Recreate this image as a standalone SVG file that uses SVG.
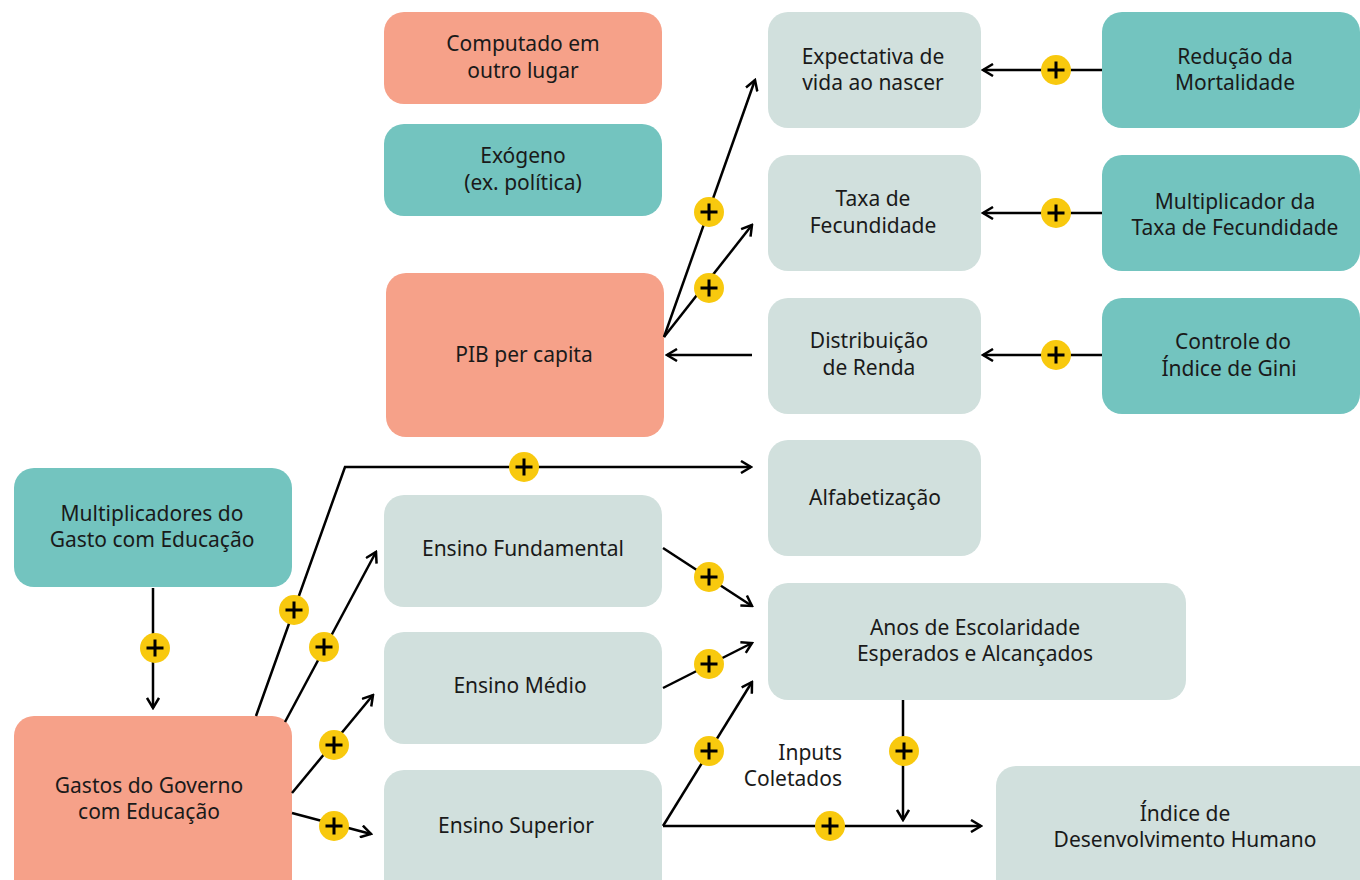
<svg xmlns="http://www.w3.org/2000/svg" width="1360" height="880" viewBox="0 0 1360 880">
<defs>
<style>
.salmon{fill:#F6A189}
.teal{fill:#73C4BF}
.gray{fill:#D1E0DD}
text{font-family:"Noto Sans","Open Sans",sans-serif;font-size:21px;fill:#1a1a1a;text-anchor:middle}
.c{fill:none;stroke:#000;stroke-width:2.5}
</style>
<marker id="ar" viewBox="0 0 14 14" refX="12" refY="7" markerWidth="14" markerHeight="14" markerUnits="userSpaceOnUse" orient="auto">
<path d="M2,1 L12,7 L2,13" fill="none" stroke="#000" stroke-width="2.5"/>
</marker>
<g id="plus"><circle r="15" fill="#F8C90E"/><path d="M-8.5,0 H8.5 M0,-8.5 V8.5" stroke="#000" stroke-width="3" fill="none"/></g>
</defs>
<rect width="1360" height="880" fill="#fff"/>

<g id="n-computado"><rect class="salmon" x="384" y="12" width="278" height="92" rx="20"/><text x="523" y="51">Computado em</text><text x="523" y="78">outro lugar</text></g>
<g id="n-exogeno"><rect class="teal" x="384" y="124" width="278" height="92" rx="20"/><text x="523" y="163">Exógeno</text><text x="523" y="190">(ex. política)</text></g>
<g id="n-pib"><rect class="salmon" x="386" y="273" width="278" height="164" rx="20"/><text x="524" y="362">PIB  per capita</text></g>
<g id="n-expectativa"><rect class="gray" x="768" y="12" width="213" height="116" rx="20"/><text x="873" y="64">Expectativa de</text><text x="873" y="90">vida ao nascer</text></g>
<g id="n-taxa"><rect class="gray" x="768" y="155" width="213" height="116" rx="20"/><text x="873" y="206">Taxa de</text><text x="873" y="233">Fecundidade</text></g>
<g id="n-distribuicao"><rect class="gray" x="768" y="298" width="213" height="116" rx="20"/><text x="869" y="348">Distribuição</text><text x="869" y="375">de Renda</text></g>
<g id="n-reducao"><rect class="teal" x="1102" y="12" width="258" height="116" rx="20"/><text x="1235" y="64">Redução da</text><text x="1235" y="90">Mortalidade</text></g>
<g id="n-multfec"><rect class="teal" x="1102" y="155" width="258" height="116" rx="20"/><text x="1235" y="209">Multiplicador da</text><text x="1235" y="235">Taxa de Fecundidade</text></g>
<g id="n-gini"><rect class="teal" x="1102" y="298" width="258" height="116" rx="20"/><text x="1233" y="349">Controle do</text><text x="1229" y="376">Índice de Gini</text></g>
<g id="n-alfabetizacao"><rect class="gray" x="768" y="440" width="213" height="116" rx="20"/><text x="875" y="505">Alfabetização</text></g>
<g id="n-multgasto"><rect class="teal" x="14" y="468" width="278" height="119" rx="20"/><text x="152" y="521">Multiplicadores do</text><text x="152" y="547">Gasto com Educação</text></g>
<g id="n-fundamental"><rect class="gray" x="384" y="495" width="278" height="112" rx="20"/><text x="523" y="556">Ensino Fundamental</text></g>
<g id="n-medio"><rect class="gray" x="384" y="632" width="278" height="112" rx="20"/><text x="520" y="693">Ensino Médio</text></g>
<g id="n-superior"><rect class="gray" x="384" y="770" width="278" height="130" rx="20"/><text x="516" y="833">Ensino Superior</text></g>
<g id="n-anos"><rect class="gray" x="768" y="583" width="418" height="117" rx="20"/><text x="975" y="635">Anos de Escolaridade</text><text x="975" y="661">Esperados e Alcançados</text></g>
<g id="n-gastos"><rect class="salmon" x="14" y="716" width="278" height="184" rx="20"/><text x="149" y="793">Gastos do Governo</text><text x="149" y="819">com Educação</text></g>
<g id="n-idh"><rect class="gray" x="996" y="766" width="384" height="134" rx="20"/><text x="1185" y="821">Índice de</text><text x="1185" y="847">Desenvolvimento Humano</text></g>
<g id="l-inputs"><text x="842" y="760" style="text-anchor:end">Inputs</text><text x="842" y="786" style="text-anchor:end">Coletados</text></g>

<g id="connectors">
<path class="c" d="M664,337 L755,80" marker-end="url(#ar)"/>
<path class="c" d="M664,337 L752,225" marker-end="url(#ar)"/>
<path class="c" d="M752,355 L667,355" marker-end="url(#ar)"/>
<path class="c" d="M1102,70 L983,70" marker-end="url(#ar)"/>
<path class="c" d="M1102,213 L983,213" marker-end="url(#ar)"/>
<path class="c" d="M1102,355 L983,355" marker-end="url(#ar)"/>
<path class="c" d="M256,716 L345,467 L751,467" marker-end="url(#ar)"/>
<path class="c" d="M285,722 L376,552" marker-end="url(#ar)"/>
<path class="c" d="M292,793 L373,695" marker-end="url(#ar)"/>
<path class="c" d="M292,813 L371,834" marker-end="url(#ar)"/>
<path class="c" d="M153,588 L153,708" marker-end="url(#ar)"/>
<path class="c" d="M663,548 L752,606" marker-end="url(#ar)"/>
<path class="c" d="M663,688 L752,643" marker-end="url(#ar)"/>
<path class="c" d="M663,826 L752,682" marker-end="url(#ar)"/>
<path class="c" d="M663,826 L981,826" marker-end="url(#ar)"/>
<path class="c" d="M903,700 L903,820" marker-end="url(#ar)"/>
<g id="badges">
<use href="#plus" x="709" y="212"/>
<use href="#plus" x="709" y="288"/>
<use href="#plus" x="1056" y="70"/>
<use href="#plus" x="1056" y="213"/>
<use href="#plus" x="1056" y="355"/>
<use href="#plus" x="294" y="610"/>
<use href="#plus" x="524" y="467"/>
<use href="#plus" x="324" y="647"/>
<use href="#plus" x="334" y="745"/>
<use href="#plus" x="334" y="826"/>
<use href="#plus" x="155" y="648"/>
<use href="#plus" x="709" y="577"/>
<use href="#plus" x="709" y="664"/>
<use href="#plus" x="709" y="751"/>
<use href="#plus" x="830" y="826"/>
<use href="#plus" x="904" y="751"/>
</g>
</g>
</svg>
